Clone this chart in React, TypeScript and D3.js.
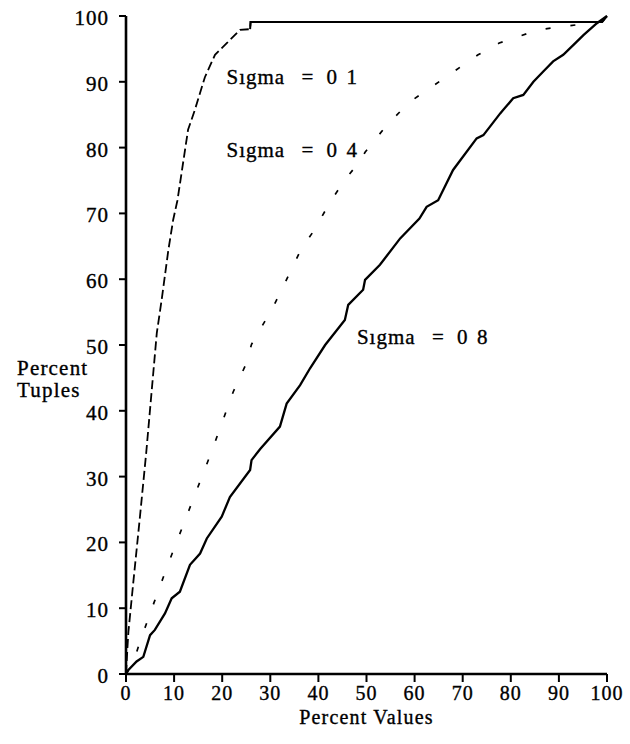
import React from "react";
import * as d3 from "d3";

const xTicks = [0, 10, 20, 30, 40, 50, 60, 70, 80, 90, 100];
const yTicks = [0, 10, 20, 30, 40, 50, 60, 70, 80, 90, 100];

// Sigma = 0.1 (dashed)
const sigma01: [number, number][] = [
  [0, 0], [0.3, 4], [0.5, 6.4], [1.5, 13.8], [2.9, 23.9], [4.2, 33.6], [6.4, 51.8],
  [7.4, 56.8], [8.8, 64.4], [9.8, 69], [10.7, 72], [12.9, 82.7], [14.3, 85.7],
  [16.4, 90.7], [18.5, 94.1], [21, 95.9], [23.7, 97.9], [25.8, 98], [25.9, 99.1],
  [99, 99.1], [100, 100],
];

// Sigma = 0.4 (sparse dashes)
const sigma04: [number, number][] = [
  [0, 0], [1.9, 2.6], [2.9, 4.9], [5.9, 11], [8.8, 16.8], [17.8, 33.8], [22.3, 42.9],
  [24.9, 47], [26.1, 50.1], [30.6, 55.8], [32.7, 58.9], [36.5, 64.7], [38.9, 67.2],
  [42.6, 71.9], [45.5, 75.1], [48.6, 77.9], [49.7, 79.3], [54.2, 83.4], [57.7, 86],
  [59.7, 87.3], [73.2, 94.1], [77.6, 95.9], [85.7, 97.9], [90.9, 98.4], [98.5, 99.1],
  [100, 100],
];

// Sigma = 0.8 (solid)
const sigma08: [number, number][] = [
  [0, 0], [0.5, 0.6], [2.2, 1.9], [3.6, 2.6], [5, 5.9], [6, 6.7], [8.1, 9.2], [9.5, 11.5],
  [11.2, 12.5], [13.3, 16.6], [15.4, 18.3], [16.8, 20.6], [19.9, 23.9], [21.6, 26.9],
  [25.8, 31], [26.1, 32.5], [27.9, 34.2], [32, 37.6], [33.4, 41.1], [36.2, 43.9],
  [38.3, 46.5], [41.4, 50], [45.5, 53.8], [46.2, 56.1], [49.3, 58.4], [49.7, 59.9],
  [52.8, 62.2], [57, 66.2], [61, 69.2], [62.5, 71], [64.9, 72], [68, 76.6],
  [72.9, 81.4], [74.3, 81.9], [77.8, 85.2], [78.4, 85.7], [80.5, 87.5], [82.6, 88],
  [84.7, 90], [86.8, 91.6], [88.8, 93.1], [90.9, 94.1], [93.3, 95.8], [95.1, 97.1],
  [97.9, 98.9], [100, 100],
];

const labels = [
  { text: ["Sıgma", "=", "0", "1"], x: 20.9, y: 89.7 },
  { text: ["Sıgma", "=", "0", "4"], x: 20.9, y: 78.6 },
  { text: ["Sıgma", "=", "0", "8"], x: 48, y: 50.2 },
];

const FONT = "Liberation Serif, Times New Roman, Times, serif";

export default function App() {
  const W = 630;
  const H = 744;
  const x = d3.scaleLinear().domain([0, 100]).range([126, 607]);
  const y = d3.scaleLinear().domain([0, 100]).range([674, 16]);
  const line = d3
    .line<[number, number]>()
    .x((d) => x(d[0]))
    .y((d) => y(d[1]));

  const pieceOffsets = [0, 75, 100, 120];
  const textStyle: React.CSSProperties = { fontFamily: FONT };
  const heavy = { stroke: "#000", strokeWidth: 0.35 };

  return (
    <svg
      width={W}
      height={H}
      style={{ position: "absolute", left: 0, top: 0, background: "#fff", fontFamily: FONT }}
    >
      <rect x={0} y={0} width={W} height={H} fill="#fff" />
      {/* axes */}
      <line x1={x(0)} x2={x(0)} y1={y(100)} y2={y(0) + 1} stroke="#000" strokeWidth={2.6} />
      <line x1={x(0) - 1} x2={x(100)} y1={y(0)} y2={y(0)} stroke="#000" strokeWidth={2.6} />
      {yTicks.map((t) => (
        <g key={"y" + t}>
          <line x1={x(0) - 7} x2={x(0)} y1={y(t)} y2={y(t)} stroke="#000" strokeWidth={2} />
          <text
            x={109}
            y={y(t) + 9}
            textAnchor="end"
            fontSize={21}
            letterSpacing={1}
            fill="#000"
            style={textStyle}
            {...heavy}
          >
            {t}
          </text>
        </g>
      ))}
      {xTicks.map((t) => (
        <g key={"x" + t}>
          <line x1={x(t)} x2={x(t)} y1={y(0)} y2={y(0) + 8} stroke="#000" strokeWidth={2} />
          <text
            x={x(t)}
            y={700}
            textAnchor="middle"
            fontSize={20}
            letterSpacing={1}
            fill="#000"
            style={textStyle}
            {...heavy}
          >
            {t}
          </text>
        </g>
      ))}
      <text
        x={x(50)}
        y={724}
        textAnchor="middle"
        fontSize={20}
        letterSpacing={1.2}
        fill="#000"
        style={textStyle}
        {...heavy}
      >
        Percent Values
      </text>
      <text x={17} y={375} fontSize={21} letterSpacing={1.2} fill="#000" style={textStyle} {...heavy}>
        Percent
      </text>
      <text x={17} y={397} fontSize={21} letterSpacing={1.2} fill="#000" style={textStyle} {...heavy}>
        Tuples
      </text>

      {/* curves */}
      <path
        d={line(sigma04) || ""}
        fill="none"
        stroke="#000"
        strokeWidth={1.7}
        strokeDasharray="5 20"
      />
      <path
        d={line(sigma01) || ""}
        fill="none"
        stroke="#000"
        strokeWidth={1.8}
        strokeDasharray="9 4"
      />
      <path
        d={line(sigma01.slice(sigma01.length - 4)) || ""}
        fill="none"
        stroke="#000"
        strokeWidth={2}
      />
      <path d={line(sigma08) || ""} fill="none" stroke="#000" strokeWidth={2.3} />

      {labels.map((l, i) => (
        <text key={i} fontSize={21} letterSpacing={1} fill="#000" style={textStyle} {...heavy}>
          {l.text.map((p, j) => (
            <tspan key={j} x={x(l.x) + pieceOffsets[j]} y={y(l.y)}>
              {p}
            </tspan>
          ))}
        </text>
      ))}
    </svg>
  );
}
